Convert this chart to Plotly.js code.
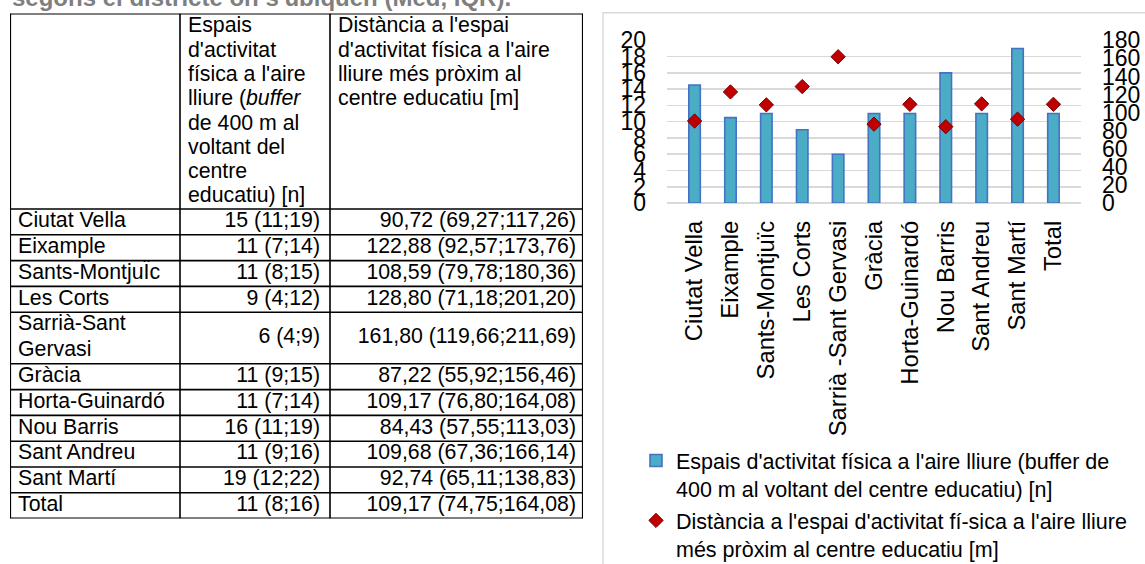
<!DOCTYPE html>
<html>
<head>
<meta charset="utf-8">
<script src="https://cdn.plot.ly/plotly-3.0.1.min.js"></script>
<style>
  html, body { margin: 0; padding: 0; background: #ffffff; }
  #chart { width: 1145px; height: 564px; }
</style>
</head>
<body>
<div id="chart"></div>
<script>
// ---- Data ---------------------------------------------------------------
// Chart categories (districts + total)
const categories = ['Ciutat Vella', 'Eixample', 'Sants-Montjuïc', 'Les Corts', 'Sarrià -Sant Gervasi',
  'Gràcia', 'Horta-Guinardó', 'Nou Barris', 'Sant Andreu', 'Sant Martí', 'Total'];

// Open-air physical activity spaces within 400 m of the school (median count)
const espais = [14.5, 10.5, 11, 9, 6, 11, 11, 16, 11, 19, 11];

// Distance to the nearest open-air physical activity space (median, metres)
const distancia = [90.72, 122.88, 108.59, 128.80, 161.80, 87.22, 109.17, 84.43, 109.68, 92.74, 109.17];

// Table rows (each entry lists the text lines of the first column)
const tableRows = [['Ciutat Vella'], ['Eixample'], ['Sants-MontjuÏc'], ['Les Corts'], ['Sarrià-Sant', 'Gervasi'],
  ['Gràcia'], ['Horta-Guinardó'], ['Nou Barris'], ['Sant Andreu'], ['Sant Martí'], ['Total']];
const tableEspais = ['15 (11;19)', '11 (7;14)', '11 (8;15)', '9 (4;12)', '6 (4;9)', '11 (9;15)',
  '11 (7;14)', '16 (11;19)', '11 (9;16)', '19 (12;22)', '11 (8;16)'];
const tableDistancia = ['90,72 (69,27;117,26)', '122,88 (92,57;173,76)', '108,59 (79,78;180,36)',
  '128,80 (71,18;201,20)', '161,80 (119,66;211,69)', '87,22 (55,92;156,46)', '109,17 (76,80;164,08)',
  '84,43 (57,55;113,03)', '109,68 (67,36;166,14)', '92,74 (65,11;138,83)', '109,17 (74,75;164,08)'];
const headerEspais = ['Espais', "d'activitat", "física a l'aire", 'lliure (<i>buffer</i>', 'de 400 m al',
  'voltant del', 'centre', 'educatiu) [n]'];
const headerDistancia = ["Distància a l'espai", "d'activitat física a l'aire", 'lliure més pròxim al',
  'centre educatiu [m]'];

const yTicksLeft = [0, 2, 4, 6, 8, 10, 12, 14, 16, 18, 20];
const yTicksRight = [0, 20, 40, 60, 80, 100, 120, 140, 160, 180];

const legendEspais = "Espais d'activitat física a l'aire lliure (buffer de<br>400 m al voltant del centre educatiu) [n]";
const legendDistancia = "Distància a l'espai d'activitat fí-sica a l'aire lliure<br>més pròxim al centre educatiu [m]";
const titleText = "segons el districte on s'ubiquen (Med, IQR).";

// ---- Layout constants -------------------------------------------------
const W = 1145, H = 564;
const FONT = 'Liberation Sans, Arial, sans-serif';
const TABLE_LEFT = 10, TABLE_TOP = 13.5;
const COL_W = [170, 150, 253];
const HEAD_H = 195.5, ROW_H = 25.8;
const HEAD_LINE0 = 13.5, HEAD_LINE = 24.3;
const PAD_LEFT = 8;
const PAD_RIGHT = [8, 10, 7];
const TABLE_FONT = 21.3;

const colEdges = [0];
COL_W.forEach(w => colEdges.push(colEdges[colEdges.length - 1] + w));
const tableW = colEdges[colEdges.length - 1];

const rowTops = [];
let acc = HEAD_H;
tableRows.forEach(lines => { rowTops.push(acc); acc += lines.length * ROW_H; });
const tableH = acc;
const rowMid = rowTops.map((t, i) => t + tableRows[i].length * ROW_H / 2);

// first column text (one point per text line)
const c1x = [], c1y = [], c1t = [];
tableRows.forEach((lines, i) => lines.forEach((t, j) => {
  c1x.push(PAD_LEFT); c1y.push(rowTops[i] + (j + 0.5) * ROW_H); c1t.push(t);
}));

const tableFont = { family: FONT, size: TABLE_FONT, color: '#000000' };

function headerTrace(lines, col) {
  return {
    type: 'scatter', mode: 'text', xaxis: 'x3', yaxis: 'y3',
    x: lines.map(() => colEdges[col] + PAD_LEFT),
    y: lines.map((_, i) => HEAD_LINE0 + i * HEAD_LINE),
    text: lines, textposition: 'middle right', textfont: tableFont,
    hoverinfo: 'skip', showlegend: false, cliponaxis: false
  };
}
function valueTrace(values, col) {
  return {
    type: 'scatter', mode: 'text', xaxis: 'x3', yaxis: 'y3',
    x: values.map(() => colEdges[col + 1] - PAD_RIGHT[col]),
    y: rowMid, text: values, textposition: 'middle left', textfont: tableFont,
    hoverinfo: 'skip', showlegend: false, cliponaxis: false
  };
}

// table grid lines
const tableShapes = [];
const hLines = [0, HEAD_H].concat(rowTops.slice(1)).concat([tableH]);
hLines.forEach((y, i) => tableShapes.push({
  type: 'line', xref: 'x3', yref: 'y3', x0: 0, x1: tableW, y0: y, y1: y,
  line: { color: '#000000', width: (i === 0 || i === hLines.length - 1) ? 2.2 : 1.6 }
}));
colEdges.forEach((x, i) => tableShapes.push({
  type: 'line', xref: 'x3', yref: 'y3', x0: x, x1: x, y0: 0, y1: tableH,
  line: { color: '#000000', width: (i === 0 || i === colEdges.length - 1) ? 2.2 : 1.6 }
}));

// ---- Traces --------------------------------------------------------------
const traces = [
  {
    type: 'bar', name: legendEspais, legendgroup: 'espais', x: categories, y: espais,
    marker: { color: '#4bacc6', line: { color: '#4472c4', width: 1.6 } },
    hoverinfo: 'x+y'
  },
  {
    type: 'scatter', mode: 'markers', name: legendDistancia, legendgroup: 'distancia',
    x: categories, y: distancia, yaxis: 'y2',
    marker: { symbol: 'diamond', size: 11, color: '#c00000', line: { color: '#7a0000', width: 1 } },
    hoverinfo: 'x+y'
  },
  {
    type: 'scatter', mode: 'text', xaxis: 'x3', yaxis: 'y3', x: c1x, y: c1y, text: c1t,
    textposition: 'middle right', textfont: tableFont,
    hoverinfo: 'skip', showlegend: false, cliponaxis: false
  },
  headerTrace(headerEspais, 1),
  headerTrace(headerDistancia, 2),
  valueTrace(tableEspais, 1),
  valueTrace(tableDistancia, 2)
];

// ---- Layout ---------------------------------------------------------------
const plotLeft = 667, plotRight = 1081, plotTop = 40.3, plotBottom = 203;

const layout = {
  width: W, height: H,
  margin: { l: 0, r: 0, t: 0, b: 0, pad: 0, autoexpand: false },
  paper_bgcolor: '#ffffff', plot_bgcolor: '#ffffff',
  font: { family: FONT, color: '#000000' },
  bargap: 0.68,
  showlegend: true,
  xaxis: {
    domain: [plotLeft / W, plotRight / W], type: 'category', anchor: 'y',
    tickangle: -90, tickfont: { family: FONT, size: 23.8, color: '#000000' },
    showgrid: false, showline: false, zeroline: false, ticks: '', ticklabelstandoff: 12,
    fixedrange: true
  },
  yaxis: {
    domain: [(H - plotBottom) / H, (H - plotTop) / H], range: [0, 20],
    tickmode: 'array', tickvals: yTicksLeft, ticktext: yTicksLeft.map(String),
    tickfont: { family: FONT, size: 23, color: '#000000' },
    showgrid: true, gridcolor: '#d9d9d9', gridwidth: 1.6,
    zeroline: true, zerolinecolor: '#d9d9d9', zerolinewidth: 1.6,
    showline: false, ticks: '', ticklabelstandoff: 20, fixedrange: true
  },
  yaxis2: {
    overlaying: 'y', side: 'right', anchor: 'x', range: [0, 180],
    tickmode: 'array', tickvals: yTicksRight, ticktext: yTicksRight.map(String),
    tickfont: { family: FONT, size: 23, color: '#000000' },
    showgrid: false, zeroline: false, showline: false, ticks: '', ticklabelstandoff: 20, fixedrange: true
  },
  xaxis3: {
    domain: [TABLE_LEFT / W, (TABLE_LEFT + tableW) / W], range: [0, tableW],
    anchor: 'y3', visible: false, fixedrange: true
  },
  yaxis3: {
    domain: [(H - TABLE_TOP - tableH) / H, (H - TABLE_TOP) / H], range: [tableH, 0],
    anchor: 'x3', visible: false, fixedrange: true
  },
  legend: {
    xref: 'container', yref: 'container',
    x: 636 / W, y: (H - 440) / H, xanchor: 'left', yanchor: 'top',
    orientation: 'v', valign: 'top', bgcolor: 'rgba(0,0,0,0)',
    font: { family: FONT, size: 21.5, color: '#000000' }, tracegroupgap: 1
  },
  annotations: [{
    xref: 'paper', yref: 'paper', x: TABLE_LEFT / W, y: (H + 2.4) / H,
    xanchor: 'left', yanchor: 'middle', showarrow: false,
    text: '<b>' + titleText + '</b>',
    font: { family: FONT, size: 24, color: '#7f7f7f' }
  }],
  shapes: [{
    type: 'rect', xref: 'paper', yref: 'paper', layer: 'below',
    x0: 603 / W, x1: 1.02, y0: -0.05, y1: (H - 12.7) / H,
    line: { color: '#d9d9d9', width: 1.4 }, fillcolor: 'rgba(0,0,0,0)'
  }].concat(tableShapes)
};

Plotly.newPlot('chart', traces, layout, { displayModeBar: false, staticPlot: true });
</script>
</body>
</html>
